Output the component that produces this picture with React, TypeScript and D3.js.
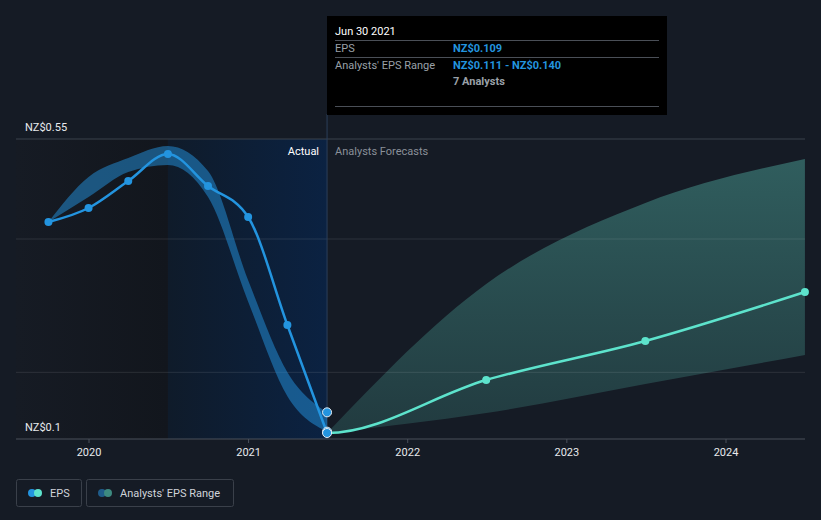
import React from "react";
import * as d3 from "d3";

const actualDates = ["2019-09-30", "2019-12-31", "2020-03-31", "2020-06-30", "2020-09-30", "2020-12-31", "2021-03-31", "2021-06-30"];
const actualEps = [0.4255, 0.4465, 0.487, 0.5275, 0.4795, 0.433, 0.271, 0.109];
const pastRangeLow = [0.4255, 0.463, 0.5005, 0.511, 0.463, 0.306, 0.164, 0.111];
const pastRangeHigh = [0.4255, 0.493, 0.5215, 0.5395, 0.502, 0.338, 0.2, 0.14];

const forecastDates = ["2021-06-30", "2022-06-30", "2023-06-30", "2024-06-30"];
const forecastEps = [0.109, 0.1885, 0.247, 0.3205];
const forecastLow = [0.109, 0.139, 0.1825, 0.226];
const forecastHigh = [0.109, 0.3325, 0.454, 0.52];

const yGridValues = [0.55, 0.4, 0.2];
const xTickYears = [2020, 2021, 2022, 2023, 2024];

const W = 821;
const H = 520;
const FONT = "Roboto, 'Noto Sans', sans-serif";
const BG = "#151b25";
const BLUE = "#2394df";
const TEAL = "#5de3cc";

const parse = d3.timeParse("%Y-%m-%d");

export default function App() {
  const x = d3
    .scaleTime()
    .domain([new Date(2020, 0, 1), new Date(2024, 0, 1)])
    .range([89, 726]);
  const plotLeft = 16;
  const plotRight = 805;
  const y = d3.scaleLinear().domain([0.1, 0.55]).range([439, 139]);

  const past = actualDates.map((d, i) => ({
    date: parse(d) as Date,
    eps: actualEps[i],
    lo: pastRangeLow[i],
    hi: pastRangeHigh[i],
  }));
  const fut = forecastDates.map((d, i) => ({
    date: parse(d) as Date,
    eps: forecastEps[i],
    lo: forecastLow[i],
    hi: forecastHigh[i],
  }));
  // forecast line continues the actual series smoothly (tangent from the combined series)
  const futLineData = [past[past.length - 2], ...fut];

  const line = d3
    .line<any>()
    .x((d) => x(d.date))
    .y((d) => y(d.eps))
    .curve(d3.curveMonotoneX);
  const area = d3
    .area<any>()
    .x((d) => x(d.date))
    .y0((d) => y(d.lo))
    .y1((d) => y(d.hi))
    .curve(d3.curveMonotoneX);

  const lastPast = past[past.length - 1];
  const xNow = x(lastPast.date);
  const xActStart = x(past[3].date);

  return (
    <svg width={W} height={H} style={{ display: "block", position: "absolute", left: 0, top: 0 }}>
      <defs>
        <linearGradient id="leftGrad" x1="0" x2="1" y1="0" y2="0">
          <stop offset="0" stopColor="#161b24" />
          <stop offset="1" stopColor="#12161d" />
        </linearGradient>
        <linearGradient id="actGrad" x1="0" x2="1" y1="0" y2="0">
          <stop offset="0" stopColor="#0f1b2a" />
          <stop offset="1" stopColor="#0b2242" />
        </linearGradient>
        <linearGradient id="fcGrad" x1="0" x2="0" y1={y(0.55)} y2={y(0.1)} gradientUnits="userSpaceOnUse">
          <stop offset="0" stopColor="#316060" />
          <stop offset="1" stopColor="#213a3f" />
        </linearGradient>
        <clipPath id="futClip">
          <rect x={xNow} y={0} width={W} height={H} />
        </clipPath>
      </defs>
      <rect x={0} y={0} width={W} height={H} fill={BG} />
      <rect x={plotLeft} y={139} width={xActStart - plotLeft} height={300} fill="url(#leftGrad)" />
      <rect x={xActStart} y={139} width={xNow - xActStart} height={300} fill="url(#actGrad)" />

      {/* forecast band */}
      <path d={area(fut) || ""} fill="url(#fcGrad)" />

      {/* grid */}
      {yGridValues.map((v) => (
        <line key={v} x1={plotLeft} x2={plotRight} y1={y(v)} y2={y(v)} stroke={v === 0.55 ? "#3b424d" : "#ffffff"} strokeOpacity={v === 0.55 ? 1 : 0.1} strokeWidth={1} />
      ))}
      <line x1={xNow} x2={xNow} y1={y(0.55) - 25} y2={y(0.1)} stroke="#2b3f5a" strokeWidth={1} />

      {/* past band */}
      <path d={area(past) || ""} fill="#2394df" fillOpacity={0.5} />

      {/* actual line */}
      <path d={line(past) || ""} fill="none" stroke={BLUE} strokeWidth={2.5} />
      {past.slice(0, -1).map((d, i) => (
        <circle key={i} cx={x(d.date)} cy={y(d.eps)} r={4} fill={BLUE} />
      ))}

      {/* forecast line */}
      <path d={line(futLineData) || ""} fill="none" stroke={TEAL} strokeWidth={2.5} clipPath="url(#futClip)" />
      {fut.slice(1).map((d, i) => (
        <circle key={i} cx={x(d.date)} cy={y(d.eps)} r={4} fill={TEAL} />
      ))}

      {/* hover markers */}
      <circle cx={xNow} cy={y(lastPast.hi)} r={4.5} fill={BLUE} stroke="#e6edf5" strokeWidth={1} />
      <circle cx={xNow} cy={y(lastPast.lo)} r={4.5} fill={BLUE} stroke="#e6edf5" strokeWidth={1} />
      <circle cx={xNow} cy={y(lastPast.eps)} r={4.5} fill={BLUE} stroke="#e6edf5" strokeWidth={1} />

      {/* axis */}
      <line x1={plotLeft} x2={plotRight} y1={439} y2={439} stroke="#4a505b" strokeWidth={1} />
      {xTickYears.map((yr) => {
        const xx = x(new Date(yr, 0, 1));
        return (
          <g key={yr}>
            <line x1={xx} x2={xx} y1={439} y2={443} stroke="#4a505b" />
            <text x={xx} y={456} fill="#e8eaed" fontSize={11} fontFamily={FONT} textAnchor="middle">
              {yr}
            </text>
          </g>
        );
      })}

      <text x={25} y={131} fill="#e8eaed" fontSize={11} fontFamily={FONT}>NZ$0.55</text>
      <text x={25} y={431} fill="#e8eaed" fontSize={11} fontFamily={FONT}>NZ$0.1</text>

      <text x={xNow - 8} y={155} fill="#ffffff" fontSize={11} fontFamily={FONT} textAnchor="end">Actual</text>
      <text x={xNow + 8} y={155} fill="#8a9099" fontSize={11} fontFamily={FONT}>Analysts Forecasts</text>

      {/* tooltip */}
      <g fontFamily={FONT} fontSize={11}>
        <rect x={327} y={16} width={340} height={99} fill="#000000" />
        <text x={335} y={35} fill="#ffffff">Jun 30 2021</text>
        <line x1={335} x2={659} y1={40.5} y2={40.5} stroke="#4a4f57" />
        <text x={335} y={52} fill="#9aa0a8">EPS</text>
        <text x={453} y={52} fill={BLUE} fontWeight="bold">NZ$0.109</text>
        <line x1={335} x2={659} y1={57.5} y2={57.5} stroke="#4a4f57" />
        <text x={335} y={69} fill="#9aa0a8">Analysts' EPS Range</text>
        <text x={453} y={69} fill={BLUE} fontWeight="bold">NZ$0.111 - NZ$0.140</text>
        <text x={453} y={85} fill="#9aa0a8" fontWeight="bold">7 Analysts</text>
        <line x1={335} x2={659} y1={106.5} y2={106.5} stroke="#4a4f57" />
      </g>

      {/* legend */}
      <g fontFamily={FONT} fontSize={11}>
        <rect x={16.5} y={479.5} width={65} height={27} rx={2} fill="none" stroke="#3a404a" />
        <circle cx={32} cy={493} r={4} fill={BLUE} />
        <circle cx={38} cy={493} r={4} fill={TEAL} />
        <text x={50} y={497} fill="#d0d4da">EPS</text>
        <rect x={86.5} y={479.5} width={147} height={27} rx={2} fill="none" stroke="#3a404a" />
        <circle cx={102} cy={493} r={4} fill="#1f5c8a" />
        <circle cx={108} cy={493} r={4} fill="#3d8a80" />
        <text x={120} y={497} fill="#d0d4da">Analysts' EPS Range</text>
      </g>
    </svg>
  );
}
